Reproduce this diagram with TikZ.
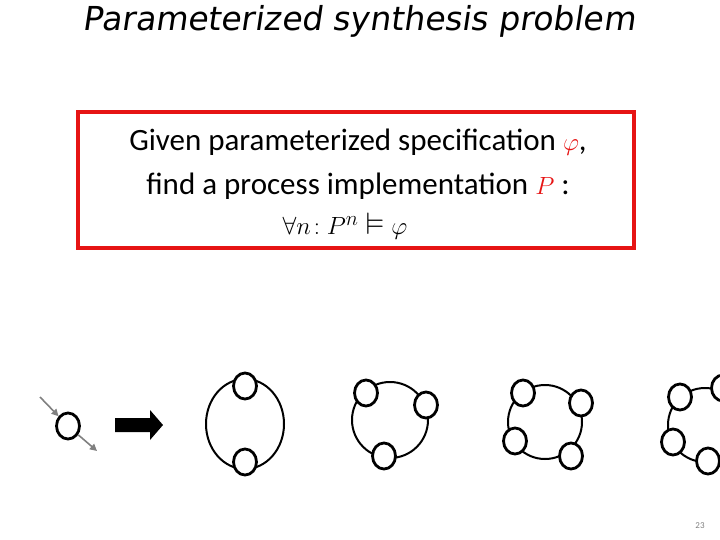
\documentclass[tikz,border=0pt]{standalone}
\usepackage{amssymb}
\usepackage{fontspec}
\setmainfont{Carlito}
\newfontfamily\titlefont{DejaVu Sans}[FakeSlant=0.15]
\usetikzlibrary{arrows.meta,shapes.geometric}
\definecolor{specred}{RGB}{230,20,20}
\tikzset{
  proc/.style={draw, line width=2.8pt, fill=white, ellipse, minimum width=23pt, minimum height=26pt, inner sep=0pt},
  ring/.style={line width=2pt},
  hint/.style={draw=gray, line width=1.6pt, -{Triangle[length=7pt,width=7pt]}}
}
\begin{document}
\begin{tikzpicture}[x=1pt,y=-1pt]
\useasboundingbox (0,0) rectangle (720,540);

% Title
\node (title) at (359,21) {\titlefont\fontsize{33}{35}\selectfont Parameterized synthesis problem};

% Specification box
\draw[specred, line width=4pt] (78,112) rectangle (634,248);
\node (line1) at (358,142) {\fontsize{31}{33}\selectfont Given parameterized specification \textcolor{specred}{$\varphi$},};
\node (line2) at (358,186) {\fontsize{31}{33}\selectfont find a process implementation \textcolor{specred}{$P$} :};
\node (line3) at (345,226) {\fontsize{31}{33}\selectfont $\forall n\!: P^n \vDash \varphi$};

% Single process
\node[proc] (single) at (68,426) {};
\coordinate (inhint) at (40,397);
\coordinate (outhint) at (97,451);
\draw[hint] (inhint) -- (single);
\draw[hint] (single) -- (outhint);

% Big arrow
\fill (115,418) -- (150,418) -- (150,410) -- (163,425) -- (150,440) -- (150,432) -- (115,432) -- cycle;

% Ring of two
\draw[ring] (245,424) ellipse (39 and 45);
\node[proc] (a1) at (245,386) {};
\node[proc] (a2) at (245,462) {};

% Ring of three
\draw[ring] (390,420) circle (38);
\node[proc] (b1) at (366,393) {};
\node[proc] (b2) at (426,405) {};
\node[proc] (b3) at (384,456) {};

% Ring of four
\draw[ring] (545,422) circle (37);
\node[proc] (c1) at (523,393) {};
\node[proc] (c2) at (581,403) {};
\node[proc] (c3) at (515,441) {};
\node[proc] (c4) at (571,456) {};

% Ring of five
\draw[ring] (705,425) circle (37);
\node[proc] (d1) at (680,397) {};
\node[proc] (d2) at (723,388) {};
\node[proc] (d3) at (673,442) {};
\node[proc] (d4) at (708,461) {};
\node[proc] (d5) at (742,435) {};

% Page number
\node[gray, font=\small] (page) at (700,526) {23};
\end{tikzpicture}
\end{document}
